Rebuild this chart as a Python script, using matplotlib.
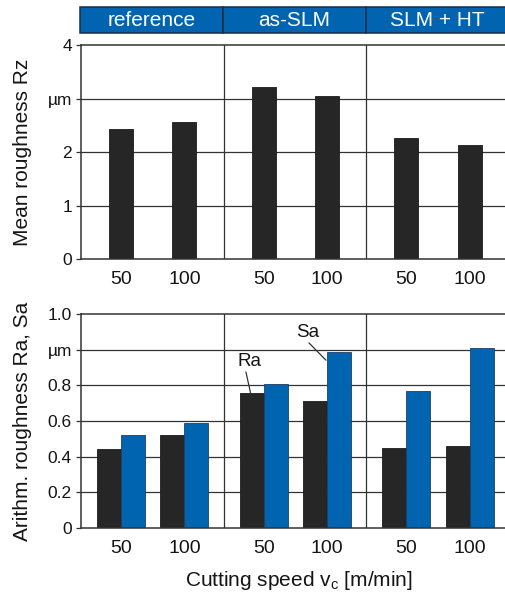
import matplotlib
matplotlib.use("Agg")
import matplotlib.pyplot as plt
from matplotlib.patches import Rectangle

plt.rcParams['font.family'] = ['Liberation Sans', 'DejaVu Sans']

# Data
groups = ["reference", "as-SLM", "SLM + HT"]
speeds = ["50", "100"]
rz = [2.43, 2.57, 3.22, 3.05, 2.27, 2.13]
ra = [0.44, 0.52, 0.76, 0.71, 0.45, 0.46]
sa = [0.52, 0.59, 0.81, 0.99, 0.77, 1.01]

rz_ticks = [0, 1, 2, 3, 4]
rz_ticklabels = ["0", "1", "2", "µm", "4"]
rs_ticks = [0, 0.2, 0.4, 0.6, 0.8, 1.0, 1.2]
rs_ticklabels = ["0", "0.2", "0.4", "0.6", "0.8", "µm", "1.0"]

BLUE = "#0064b0"
DARK = "#262626"
LINE = "#333333"
TEXT = "#151515"

W, H = 506, 596
fig = plt.figure(figsize=(W / 100, H / 100), dpi=100)


def fx(px):
    return px / W


def fy(py):
    return 1 - py / H


x_left, x_right = 81, 509
# positions of the two speed levels inside each group (group width = 1)
offsets = [0.28, 0.725]
xpos = [g + o for g in range(len(groups)) for o in offsets]
bar_w = 0.168


def style_axes(ax, ymax, ticks, ticklabels):
    ax.set_xlim(0, 3)
    ax.set_ylim(0, ymax)
    ax.set_yticks(ticks)
    ax.set_yticklabels(ticklabels, fontsize=12.5, color=TEXT)
    ax.set_xticks(xpos)
    ax.set_xticklabels(speeds * len(groups), fontsize=14, color=TEXT)
    ax.tick_params(axis="x", length=0, pad=9)
    ax.tick_params(axis="y", length=3.5, width=0.9, color=LINE, pad=3)
    for t in ticks[1:-1]:
        ax.axhline(t, color=LINE, lw=0.9, zorder=1)
    for g in range(1, len(groups)):
        ax.axvline(g, color=LINE, lw=0.9, zorder=1)
    for s in ax.spines.values():
        s.set_color(LINE)
        s.set_linewidth(1.1)


# Upper panel: mean roughness Rz
ax1 = fig.add_axes([fx(x_left), fy(259), fx(x_right - x_left), (259 - 45) / H])
ax1.bar(xpos, rz, width=bar_w, color=DARK, edgecolor="#1a1a1a", lw=0.6, zorder=2)
style_axes(ax1, 4, rz_ticks, rz_ticklabels)

# Lower panel: arithmetic roughness Ra and Sa
ax2 = fig.add_axes([fx(x_left), fy(527.7), fx(x_right - x_left), (527.7 - 314.3) / H])
xa = [x - bar_w / 2 for x in xpos]
xb = [x + bar_w / 2 for x in xpos]
ax2.bar(xa, ra, width=bar_w, color=DARK, edgecolor="#1a1a1a", lw=0.6, zorder=2)
ax2.bar(xb, sa, width=bar_w, color=BLUE, edgecolor="#1f3f66", lw=0.6, zorder=2)
style_axes(ax2, 1.2, rs_ticks, rs_ticklabels)

# Series labels with leader lines
ax2.text(1.184, 0.935, "Ra", fontsize=13.5, ha="center", va="center", color=TEXT)
ax2.annotate("", xy=(1.19, 0.752), xytext=(1.156, 0.876),
             arrowprops=dict(arrowstyle="-", color=LINE, lw=0.9,
                             shrinkA=0, shrinkB=0))
ax2.text(1.592, 1.095, "Sa", fontsize=13.5, ha="center", va="center", color=TEXT)
ax2.annotate("", xy=(1.717, 0.942), xytext=(1.598, 1.039),
             arrowprops=dict(arrowstyle="-", color=LINE, lw=0.9,
                             shrinkA=0, shrinkB=0))

# Group header band
axh = fig.add_axes([fx(80), fy(33.3), fx(x_right - 80), 26 / H])
axh.set_xlim(0, 3)
axh.set_ylim(0, 1)
axh.axis("off")
for i, name in enumerate(groups):
    axh.add_patch(Rectangle((i, 0), 1, 1, facecolor=BLUE, edgecolor="#1c2e44",
                            lw=1.1, clip_on=False))
    axh.text(i + 0.5, 0.5, name, color="white", fontsize=15,
             ha="center", va="center")

# Axis titles
fig.text(fx(23), fy(152), "Mean roughness Rz", rotation=90, fontsize=15,
         ha="center", va="center", color=TEXT)
fig.text(fx(23), fy(421), "Arithm. roughness Ra, Sa", rotation=90, fontsize=15,
         ha="center", va="center", color=TEXT)
fig.text(fx(299), fy(581), r"Cutting speed v$_\mathregular{c}$ [m/min]", fontsize=15,
         ha="center", va="center", color=TEXT)

fig.savefig("out.png", dpi=100)
